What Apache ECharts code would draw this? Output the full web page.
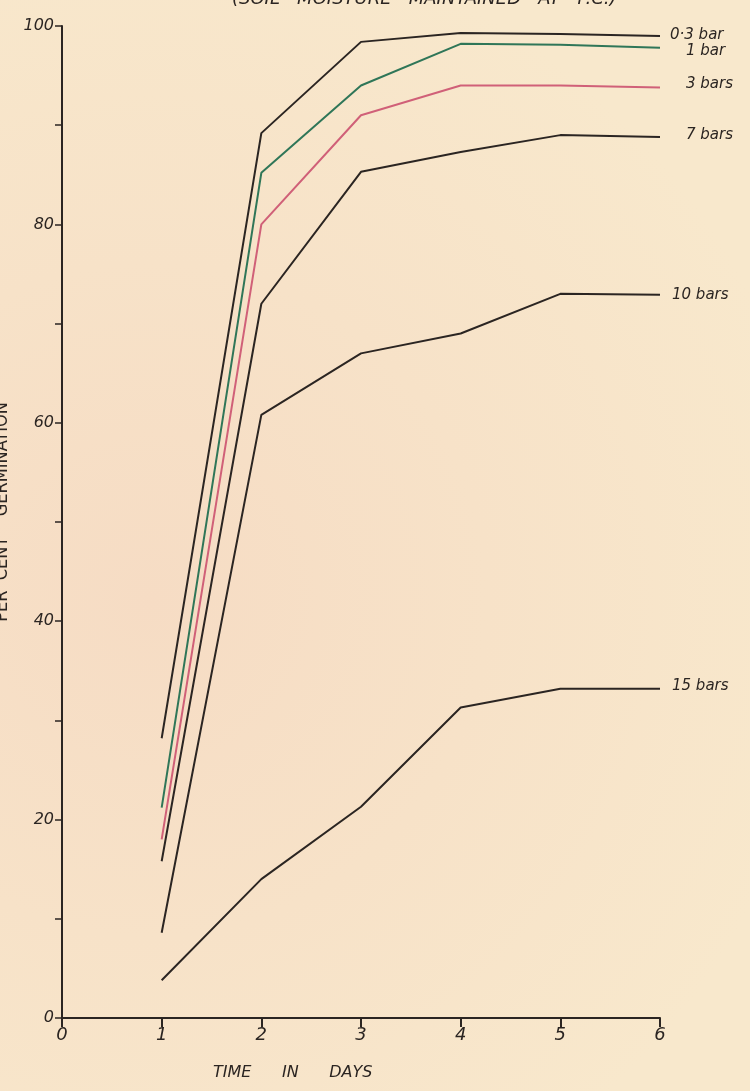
<!DOCTYPE html>
<html>
<head>
<meta charset="utf-8">
<style>
  html, body { margin: 0; padding: 0; background: #f7e5c9; }
  #chart { width: 750px; height: 1091px; }
</style>
<script src="https://cdn.jsdelivr.net/npm/echarts@6/dist/echarts.min.js"></script>
</head>
<body>
<div id="chart"></div>
<script>
// Germination over time at different soil moisture tensions
const days = [1, 2, 3, 4, 5, 6];
const seriesNames = ['0·3 bar', '1 bar', '3 bars', '7 bars', '10 bars', '15 bars'];
const bar03 = [28.2, 89.2, 98.4, 99.3, 99.2, 99.0];
const bar1  = [21.2, 85.2, 94.0, 98.2, 98.1, 97.8];
const bar3  = [18.0, 80.0, 91.0, 94.0, 94.0, 93.8];
const bar7  = [15.8, 72.0, 85.3, 87.3, 89.0, 88.8];
const bar10 = [8.6, 60.8, 67.0, 69.0, 73.0, 72.9];
const bar15 = [3.8, 14.0, 21.3, 31.3, 33.2, 33.2];
const yTickLabels = [0, 20, 40, 60, 80, 100];
const xTickLabels = ['0', '1', '2', '3', '4', '5', '6'];

const ink = '#2b2522';
const lineColors = [ink, '#2f7658', '#d06078', ink, ink, ink];
const seriesValues = [bar03, bar1, bar3, bar7, bar10, bar15];
const labelOffsets = [[2, -1], [18, 3], [18, -3], [18, -2], [4, 0], [4, -3]];

const chart = echarts.init(document.getElementById('chart'));

const series = seriesNames.map((name, i) => ({
  name: name,
  type: 'line',
  data: days.map((d, k) => [d, seriesValues[i][k]]),
  symbol: 'none',
  lineStyle: { color: lineColors[i], width: 2 },
  itemStyle: { color: lineColors[i] },
  animation: false,
  endLabel: {
    show: true,
    formatter: name,
    color: ink,
    fontFamily: 'DejaVu Sans',
    fontStyle: 'italic',
    fontSize: 15,
    offset: labelOffsets[i]
  }
}));

chart.setOption({
  backgroundColor: {
    type: 'radial', x: 0.2, y: 0.55, r: 0.9,
    colorStops: [
      { offset: 0, color: '#f6dcc4' },
      { offset: 1, color: '#f8e8cc' }
    ]
  },
  animation: false,
  grid: { left: 62, right: 90, top: 26, bottom: 73, containLabel: false, outerBoundsMode: 'none' },
  xAxis: {
    type: 'value',
    min: 0, max: 6, interval: 1,
    axisLine: { show: true, onZero: false, lineStyle: { color: ink, width: 2 } },
    axisTick: { show: true, inside: false, length: 9, lineStyle: { color: ink, width: 2 } },
    axisLabel: {
      color: ink, fontFamily: 'DejaVu Sans', fontStyle: 'italic', fontSize: 18, margin: 8,
      formatter: v => xTickLabels[v]
    },
    splitLine: { show: false }
  },
  yAxis: {
    type: 'value',
    min: 0, max: 100, interval: 10,
    name: 'PER  CENT    GERMINATION',
    nameLocation: 'middle',
    nameGap: 51,
    nameRotate: 90,
    nameTextStyle: { color: ink, fontFamily: 'DejaVu Sans Condensed', fontSize: 18, padding: [0, 0, 0, 20] },
    axisLine: { show: true, onZero: false, lineStyle: { color: ink, width: 2 } },
    axisTick: { show: true, length: 7, lineStyle: { color: ink, width: 1.5 } },
    axisLabel: {
      color: ink, fontFamily: 'DejaVu Sans', fontStyle: 'italic', fontSize: 16, margin: 8,
      formatter: v => (yTickLabels.indexOf(v) >= 0 ? String(v) : '')
    },
    splitLine: { show: false }
  },
  graphic: [{
    type: 'text',
    left: 232,
    top: -10,
    style: {
      text: '(SOIL   MOISTURE   MAINTAINED   AT   F.C.)',
      fill: ink,
      font: 'italic 18px "DejaVu Sans"'
    }
  }, {
    type: 'text',
    left: 213,
    top: 1065,
    style: {
      text: 'TIME      IN      DAYS',
      fill: ink,
      font: 'italic 16px "DejaVu Sans"'
    }
  }],
  series: series
});
</script>
</body>
</html>
